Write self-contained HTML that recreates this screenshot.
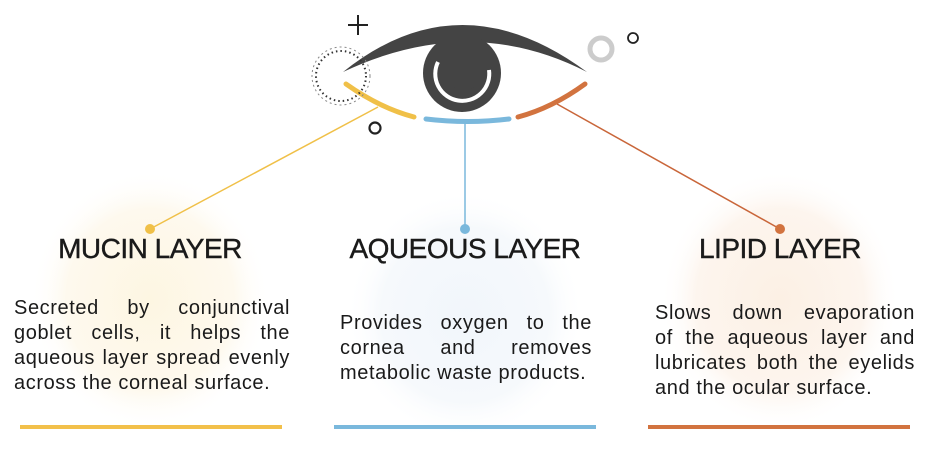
<!DOCTYPE html>
<html><head><meta charset="utf-8"><style>
body{margin:0;width:930px;height:449px;background:#fff;position:relative;overflow:hidden;font-family:"Liberation Sans",sans-serif;color:#1a1a1a}
.h{position:absolute;font-size:28px;letter-spacing:-0.5px;text-align:center;top:233px;width:300px;-webkit-text-stroke:0.4px #1a1a1a}
.t{position:absolute;font-size:20px;line-height:25px;letter-spacing:0.6px}
.t span{display:block;text-align:justify;text-align-last:justify;white-space:nowrap}
.t span.l{text-align-last:left}
.bar{position:absolute;top:425px;height:4px;width:262px}
</style></head><body>
<svg width="930" height="449" style="position:absolute;left:0;top:0">
<defs>
<radialGradient id="gy"><stop offset="0" stop-color="#fdf6e2"/><stop offset="0.7" stop-color="#fef9ee"/><stop offset="1" stop-color="#fff" stop-opacity="0"/></radialGradient>
<radialGradient id="gb"><stop offset="0" stop-color="#f1f6fb"/><stop offset="0.7" stop-color="#f6f9fc"/><stop offset="1" stop-color="#fff" stop-opacity="0"/></radialGradient>
<radialGradient id="go"><stop offset="0" stop-color="#fcf0e4"/><stop offset="0.7" stop-color="#fdf5ee"/><stop offset="1" stop-color="#fff" stop-opacity="0"/></radialGradient>
</defs>
<ellipse cx="150" cy="300" rx="120" ry="130" fill="url(#gy)"/>
<ellipse cx="465" cy="315" rx="120" ry="125" fill="url(#gb)"/>
<ellipse cx="780" cy="300" rx="120" ry="130" fill="url(#go)"/>
<path d="M343,72 Q460,-22 587,72 Q470,12 343,72 Z" fill="#444"/>
<circle cx="462" cy="73" r="39" fill="#444"/>
<path d="M438,62 A27,27 0 1 0 489,70" fill="none" stroke="#fff" stroke-width="4"/>
<circle cx="464" cy="69" r="21" fill="#444"/>
<path d="M346,84 Q380,108 414,117" fill="none" stroke="#f0c048" stroke-width="5" stroke-linecap="round"/>
<path d="M426,119 Q468,124 509,119" fill="none" stroke="#7ab8dc" stroke-width="5" stroke-linecap="round"/>
<path d="M518,117 Q552,108 585,84" fill="none" stroke="#d2733f" stroke-width="5" stroke-linecap="round"/>
<line x1="378" y1="107" x2="150" y2="229" stroke="#f0c048" stroke-width="1.5"/>
<circle cx="150" cy="229" r="5" fill="#f0c048"/>
<line x1="465" y1="122" x2="465" y2="229" stroke="#7ab8dc" stroke-width="1.5"/>
<circle cx="465" cy="229" r="5" fill="#7ab8dc"/>
<line x1="557" y1="104" x2="780" y2="229" stroke="#c9663a" stroke-width="1.5"/>
<circle cx="780" cy="229" r="5" fill="#d2733f"/>
<circle cx="341" cy="76" r="25" fill="none" stroke="#333" stroke-width="2" stroke-dasharray="1.5 3"/>
<circle cx="341" cy="76" r="29" fill="none" stroke="#888" stroke-width="1" stroke-dasharray="2 3"/>
<path d="M358,15 v20 M348,25 h20" stroke="#222" stroke-width="2"/>
<circle cx="375" cy="128" r="5.5" fill="none" stroke="#222" stroke-width="2.2"/>
<circle cx="601" cy="49" r="11" fill="none" stroke="#ccc" stroke-width="5"/>
<circle cx="633" cy="38" r="5" fill="none" stroke="#222" stroke-width="1.8"/>
</svg>
<div class="h" style="left:0">MUCIN LAYER</div>
<div class="h" style="left:315px">AQUEOUS LAYER</div>
<div class="h" style="left:630px">LIPID LAYER</div>
<div class="t" style="left:14px;top:296px;width:276px"><span>Secreted by conjunctival</span><span>goblet cells, it helps the</span><span>aqueous layer spread evenly</span><span class="l">across the corneal surface.</span></div>
<div class="t" style="left:340px;top:311px;width:252px"><span>Provides oxygen to the</span><span>cornea and removes</span><span class="l">metabolic waste products.</span></div>
<div class="t" style="left:655px;top:301px;width:260px"><span>Slows down evaporation</span><span>of the aqueous layer and</span><span>lubricates both the eyelids</span><span class="l">and the ocular surface.</span></div>
<div class="bar" style="left:20px;background:#f2c04a"></div>
<div class="bar" style="left:334px;background:#7ab8dc"></div>
<div class="bar" style="left:648px;background:#d2733f"></div>
</body></html>
